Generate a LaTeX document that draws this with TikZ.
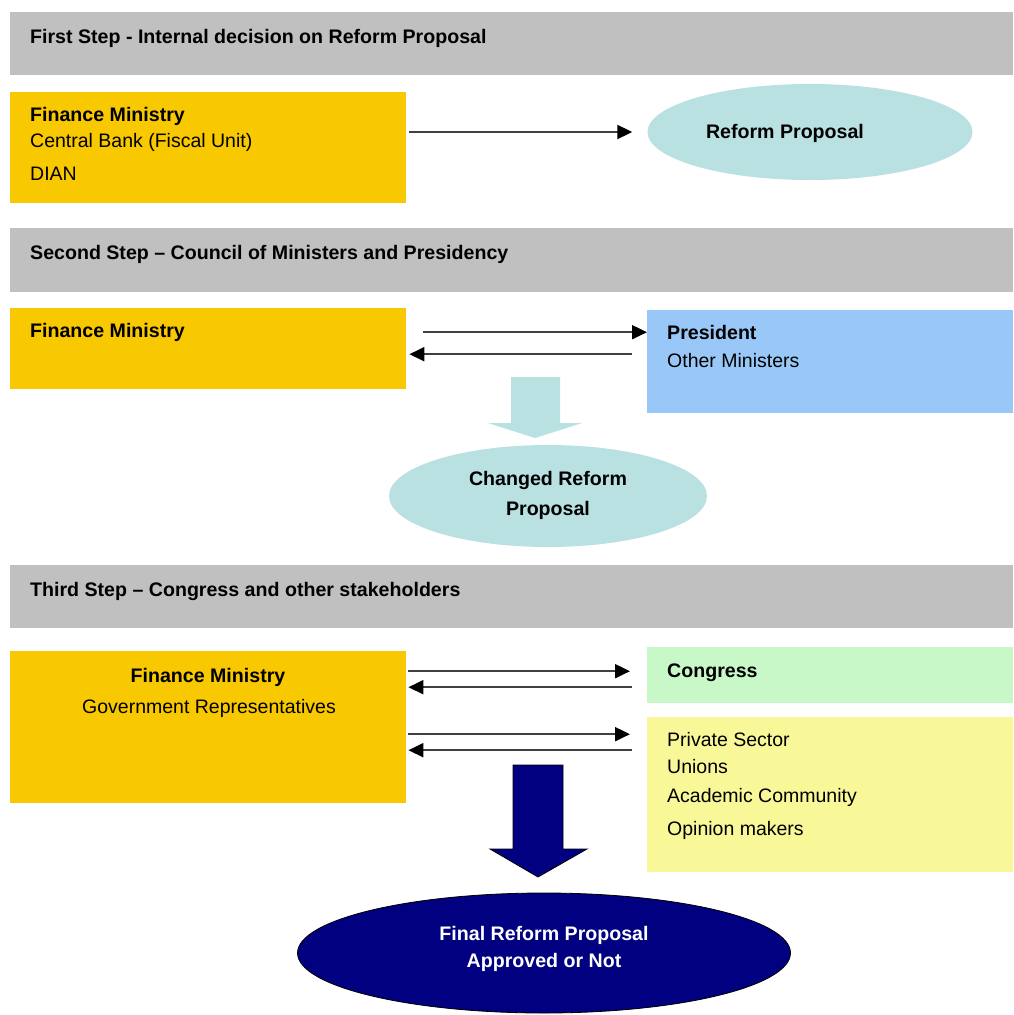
\documentclass[tikz,border=0pt]{standalone}
\usepackage{fontspec}
\setmainfont{Liberation Sans}
\usetikzlibrary{arrows.meta,calc,shapes.geometric}
\definecolor{bandgray}{HTML}{C0C0C0}
\definecolor{gold}{HTML}{F8C800}
\definecolor{lteal}{HTML}{B9E1E1}
\definecolor{lblue}{HTML}{99C8F8}
\definecolor{lgreen}{HTML}{C8F8C8}
\definecolor{lyellow}{HTML}{F8F898}
\definecolor{navyblue}{HTML}{000080}
\begin{document}
\begin{tikzpicture}[x=1pt,y=-1pt,
  rect/.style={draw=none, inner sep=0pt, anchor=north west},
  band/.style={rect, fill=bandgray},
  oval/.style={ellipse, draw=none, inner sep=0pt},
  txt/.style={anchor=base west, inner sep=0pt, font=\fontsize{19.5}{22}\selectfont},
  btxt/.style={anchor=base west, inner sep=0pt, font=\fontsize{19.6}{22}\selectfont\bfseries},
  ctxt/.style={anchor=base, inner sep=0pt, font=\fontsize{19.5}{22}\selectfont},
  cbtxt/.style={anchor=base, inner sep=0pt, font=\fontsize{19.6}{22}\selectfont\bfseries},
  arr/.style={draw=black!75, line width=2pt, -{Triangle[length=15pt,width=14pt,color=black]}}]
\useasboundingbox (0,0) rectangle (1013,1015);
\fill[white] (0,0) rectangle (1013,1015);

% Step 1
\node[band, minimum width=1003, minimum height=63] (b1) at (10,12) {};
\node[btxt] (t1) at (30,43) {First Step - Internal decision on Reform Proposal};
\node[rect, fill=gold, minimum width=396, minimum height=111] (fm1) at (10,92) {};
\node[btxt] (fm1a) at (30,121) {Finance Ministry};
\node[txt] (fm1b) at (30,147) {Central Bank (Fiscal Unit)};
\node[txt] (fm1c) at (30,180) {DIAN};
\node[oval, fill=lteal, minimum width=325, minimum height=96] (rp) at (810,132) {};
\node[cbtxt] (rpt) at (785,138) {Reform Proposal};
\draw[arr, shorten <=3pt, shorten >=15pt] (fm1.east |- rp.west) -- (rp.west);

% Step 2
\node[band, minimum width=1003, minimum height=64] (b2) at (10,228) {};
\node[btxt] (t2) at (30,259) {Second Step – Council of Ministers and Presidency};
\node[rect, fill=gold, minimum width=396, minimum height=81] (fm2) at (10,308) {};
\node[btxt] (fm2a) at (30,337) {Finance Ministry};
\node[rect, fill=lblue, minimum width=366, minimum height=103] (pres) at (647,310) {};
\node[btxt] (presa) at (667,339) {President};
\node[txt] (presb) at (667,367) {Other Ministers};
\draw[arr, shorten <=17pt] ($(fm2.east)+(0,-16.5)$) -- ($(pres.west)+(0,-29.5)$);
\draw[arr, shorten <=15pt, shorten >=3pt] ($(pres.west)+(0,-7.5)$) -- ($(fm2.east)+(0,5.5)$);
\fill[lteal] (511,377) -- (560,377) -- (560,423) -- (582,423) -- (535,438) -- (488,423) -- (511,423) -- cycle;
\node[oval, fill=lteal, minimum width=318, minimum height=102] (crp) at (548,496) {};
\node[cbtxt] (crpa) at (548,485) {Changed Reform};
\node[cbtxt] (crpb) at (548,515) {Proposal};

% Step 3
\node[band, minimum width=1003, minimum height=63] (b3) at (10,565) {};
\node[btxt] (t3) at (30,596) {Third Step – Congress and other stakeholders};
\node[rect, fill=gold, minimum width=396, minimum height=152] (fm3) at (10,651) {};
\node[cbtxt] (fm3a) at (208,682) {Finance Ministry};
\node[ctxt] (fm3b) at (209,713) {Government Representatives};
\node[rect, fill=lgreen, minimum width=366, minimum height=56] (cong) at (647,647) {};
\node[btxt] (conga) at (667,677) {Congress};
\node[rect, fill=lyellow, minimum width=366, minimum height=155] (oth) at (647,717) {};
\node[txt] (otha) at (667,746) {Private Sector};
\node[txt] (othb) at (667,773) {Unions};
\node[txt] (othc) at (667,802) {Academic Community};
\node[txt] (othd) at (667,835) {Opinion makers};
\draw[arr, shorten <=2pt, shorten >=17pt] ($(fm3.east)+(0,-56)$) -- ($(cong.west)+(0,-4)$);
\draw[arr, shorten <=15pt, shorten >=2pt] ($(cong.west)+(0,12)$) -- ($(fm3.east)+(0,-40)$);
\draw[arr, shorten <=2pt, shorten >=17pt] ($(fm3.east)+(0,7)$) -- ($(oth.west)+(0,-60.5)$);
\draw[arr, shorten <=15pt, shorten >=2pt] ($(oth.west)+(0,-44.5)$) -- ($(fm3.east)+(0,23)$);
\filldraw[fill=navyblue, draw=black, line width=0.8pt] (513,765) -- (563,765) -- (563,849) -- (587,849) -- (538,877) -- (490,849) -- (513,849) -- cycle;
\node[oval, fill=navyblue, draw=black, line width=0.8pt, minimum width=493, minimum height=120] (frp) at (544,953) {};
\node[cbtxt, text=white] (frpa) at (544,940) {Final Reform Proposal};
\node[cbtxt, text=white] (frpb) at (544,967) {Approved or Not};
\end{tikzpicture}
\end{document}
